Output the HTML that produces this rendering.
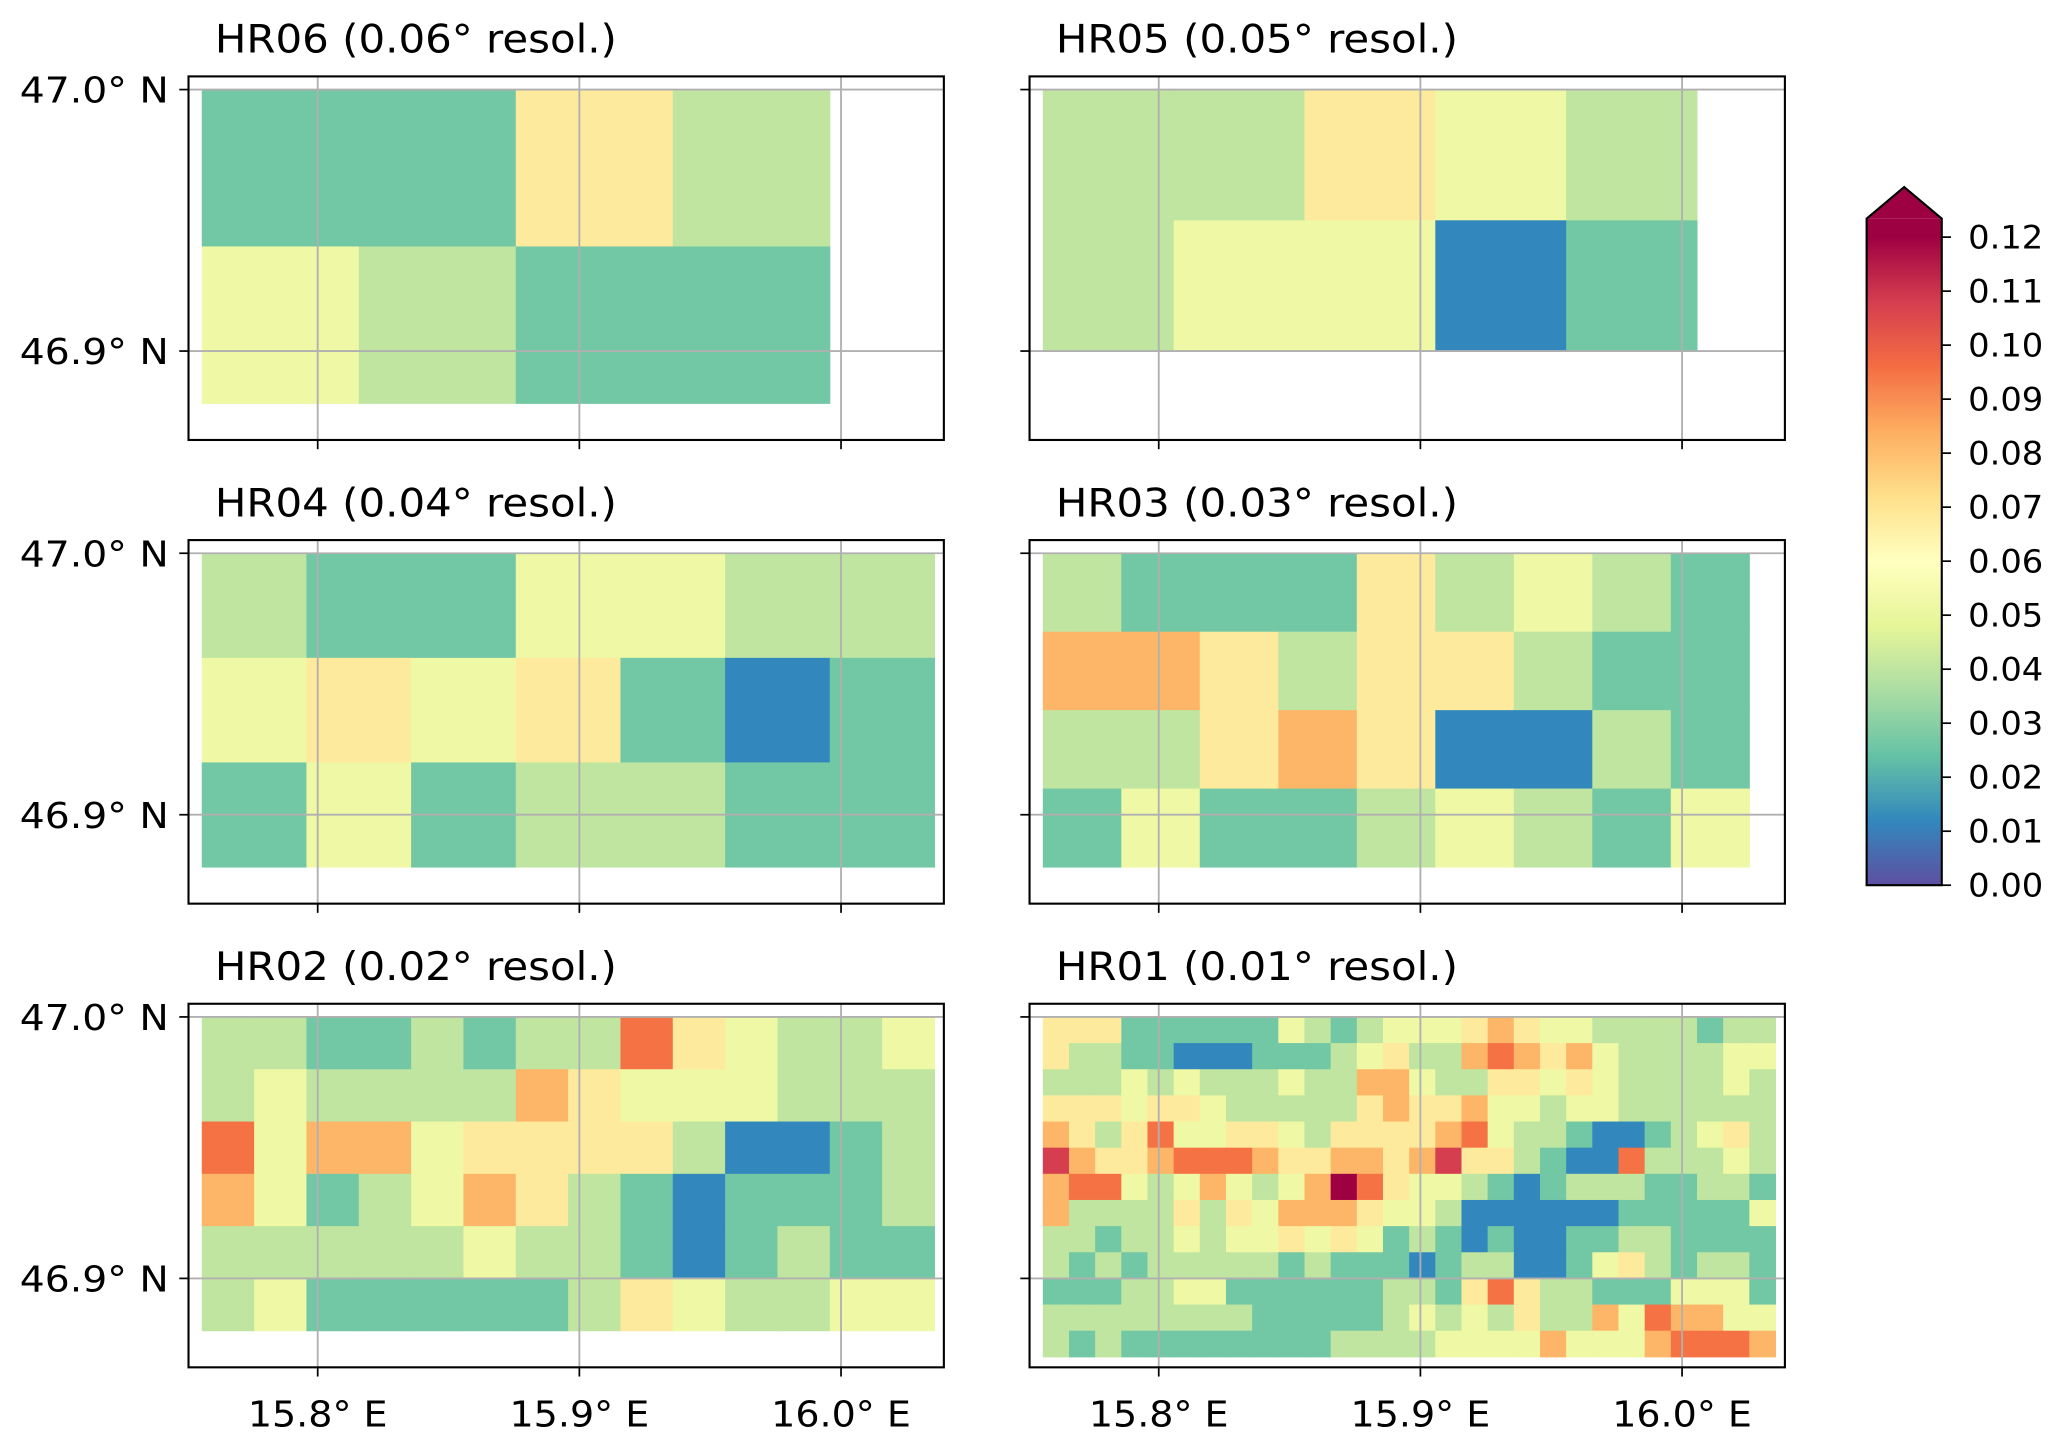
<!DOCTYPE html>
<html><head><meta charset="utf-8">
<style>
html,body{margin:0;padding:0;background:#fff;}
svg{display:block;}
text{font-family:"DejaVu Sans","Liberation Sans",sans-serif;fill:#000;}
</style></head>
<body>
<svg id="fig" width="2067" height="1449" viewBox="0 0 1568 1100" preserveAspectRatio="none" xmlns="http://www.w3.org/2000/svg">
<defs>
<linearGradient id="spec" x1="0" y1="1" x2="0" y2="0">
<stop offset="0" stop-color="#5e4fa2"/><stop offset="0.1" stop-color="#3288bd"/>
<stop offset="0.2" stop-color="#66c2a5"/><stop offset="0.3" stop-color="#abdda4"/>
<stop offset="0.4" stop-color="#e6f598"/><stop offset="0.5" stop-color="#ffffbf"/>
<stop offset="0.6" stop-color="#fee08b"/><stop offset="0.7" stop-color="#fdae61"/>
<stop offset="0.8" stop-color="#f46d43"/><stop offset="0.9" stop-color="#d53e4f"/>
<stop offset="1" stop-color="#9e0142"/>
</linearGradient>
</defs>
</svg>
<script>
// ---- data ----
const xTickValues = [15.8, 15.9, 16.0];
const xTickLabels = ["15.8° E", "15.9° E", "16.0° E"];
const yTickValues = [47.0, 46.9];
const yTickLabels = ["47.0° N", "46.9° N"];
const cbarTicks = [0,0.01,0.02,0.03,0.04,0.05,0.06,0.07,0.08,0.09,0.10,0.11,0.12];
const cbarLabels = ["0.00","0.01","0.02","0.03","0.04","0.05","0.06","0.07","0.08","0.09","0.10","0.11","0.12"];
const panelTitles = ["HR06 (0.06° resol.)","HR05 (0.05° resol.)","HR04 (0.04° resol.)","HR03 (0.03° resol.)","HR02 (0.02° resol.)","HR01 (0.01° resol.)"];
const panelRes = [0.06, 0.05, 0.04, 0.03, 0.02, 0.01];
const gridLon0 = 15.7557;
const gridLat0 = 47.0;

const hr06 = [
 [0.026,0.026,0.068,0.04],
 [0.052,0.04,0.026,0.026]];
const hr05 = [
 [0.04,0.04,0.068,0.052,0.04],
 [0.04,0.052,0.052,0.012,0.026]];
const hr04 = [
 [0.04,0.026,0.026,0.052,0.052,0.04,0.04],
 [0.052,0.068,0.052,0.068,0.026,0.012,0.026],
 [0.026,0.052,0.026,0.04,0.04,0.026,0.026]];
const hr03 = [
 [0.04,0.026,0.026,0.026,0.068,0.04,0.052,0.04,0.026],
 [0.082,0.082,0.068,0.04,0.068,0.068,0.04,0.026,0.026],
 [0.04,0.04,0.068,0.082,0.068,0.012,0.012,0.04,0.026],
 [0.026,0.052,0.026,0.026,0.04,0.052,0.04,0.026,0.052]];
const hr02 = [
 [0.04,0.04,0.026,0.026,0.04,0.026,0.04,0.04,0.095,0.068,0.052,0.04,0.04,0.052],
 [0.04,0.052,0.04,0.04,0.04,0.04,0.082,0.068,0.052,0.052,0.052,0.04,0.04,0.04],
 [0.095,0.052,0.082,0.082,0.052,0.068,0.068,0.068,0.068,0.04,0.012,0.012,0.026,0.04],
 [0.082,0.052,0.026,0.04,0.052,0.082,0.068,0.04,0.026,0.012,0.026,0.026,0.026,0.04],
 [0.04,0.04,0.04,0.04,0.04,0.052,0.04,0.04,0.026,0.012,0.026,0.04,0.026,0.026],
 [0.04,0.052,0.026,0.026,0.026,0.026,0.026,0.04,0.068,0.052,0.04,0.04,0.052,0.052]];
const hr01 = [
 [0.068,0.068,0.068,0.026,0.026,0.026,0.026,0.026,0.026,0.052,0.04,0.026,0.04,0.052,0.052,0.052,0.068,0.082,0.068,0.052,0.052,0.04,0.04,0.04,0.04,0.026,0.04,0.04],
 [0.068,0.04,0.04,0.026,0.026,0.012,0.012,0.012,0.026,0.026,0.026,0.04,0.052,0.068,0.04,0.04,0.082,0.095,0.082,0.068,0.082,0.052,0.04,0.04,0.04,0.04,0.052,0.052],
 [0.04,0.04,0.04,0.052,0.04,0.052,0.04,0.04,0.04,0.052,0.04,0.04,0.082,0.082,0.052,0.04,0.04,0.068,0.068,0.052,0.068,0.052,0.04,0.04,0.04,0.04,0.052,0.04],
 [0.068,0.068,0.068,0.052,0.068,0.068,0.052,0.04,0.04,0.04,0.04,0.04,0.068,0.082,0.068,0.068,0.082,0.052,0.052,0.04,0.052,0.052,0.04,0.04,0.04,0.04,0.04,0.04],
 [0.082,0.068,0.04,0.068,0.095,0.052,0.052,0.068,0.068,0.052,0.04,0.068,0.068,0.068,0.068,0.082,0.095,0.052,0.04,0.04,0.026,0.012,0.012,0.026,0.04,0.052,0.068,0.04],
 [0.108,0.082,0.068,0.068,0.082,0.095,0.095,0.095,0.082,0.068,0.068,0.082,0.082,0.068,0.082,0.108,0.068,0.068,0.04,0.026,0.012,0.012,0.095,0.04,0.04,0.04,0.052,0.04],
 [0.082,0.095,0.095,0.052,0.04,0.052,0.082,0.052,0.04,0.052,0.082,0.13,0.095,0.068,0.052,0.052,0.04,0.026,0.012,0.026,0.04,0.04,0.04,0.026,0.026,0.04,0.04,0.026],
 [0.082,0.04,0.04,0.04,0.04,0.068,0.04,0.068,0.052,0.082,0.082,0.082,0.068,0.052,0.052,0.04,0.012,0.012,0.012,0.012,0.012,0.012,0.026,0.026,0.026,0.026,0.026,0.052],
 [0.04,0.04,0.026,0.04,0.04,0.052,0.04,0.052,0.052,0.068,0.052,0.068,0.052,0.026,0.04,0.026,0.012,0.026,0.012,0.012,0.026,0.026,0.04,0.04,0.026,0.026,0.026,0.026],
 [0.04,0.026,0.04,0.026,0.04,0.04,0.04,0.04,0.04,0.026,0.04,0.026,0.026,0.026,0.012,0.026,0.04,0.04,0.012,0.012,0.026,0.052,0.068,0.04,0.026,0.04,0.04,0.026],
 [0.026,0.026,0.026,0.04,0.04,0.052,0.052,0.026,0.026,0.026,0.026,0.026,0.026,0.04,0.04,0.026,0.068,0.095,0.068,0.04,0.04,0.026,0.026,0.026,0.052,0.052,0.052,0.026],
 [0.04,0.04,0.04,0.04,0.04,0.04,0.04,0.04,0.026,0.026,0.026,0.026,0.026,0.04,0.052,0.04,0.052,0.04,0.068,0.04,0.04,0.082,0.052,0.095,0.082,0.082,0.052,0.052],
 [0.04,0.026,0.04,0.026,0.026,0.026,0.026,0.026,0.026,0.026,0.026,0.04,0.04,0.04,0.04,0.052,0.052,0.052,0.052,0.082,0.052,0.052,0.052,0.082,0.095,0.095,0.095,0.082]];
const panelData = [hr06, hr05, hr04, hr03, hr02, hr01];

// ---- layout ----
const NS = "http://www.w3.org/2000/svg";
const svg = document.getElementById("fig");
const axW = 573, axH = 276;
const axLefts = [143, 781];
const axTops = [58, 410, 762];
const pxPerDeg = 1985;
const lonMin = 15.8 - 98/pxPerDeg;
const latMax = 47.0 + 10/pxPerDeg;
const vmin = 0, vmax = 0.12;
const stops = ["#5e4fa2","#3288bd","#66c2a5","#abdda4","#e6f598","#ffffbf","#fee08b","#fdae61","#f46d43","#d53e4f","#9e0142"];

function hex2rgb(h){return [1,3,5].map(i=>parseInt(h.substr(i,2),16));}
function cmap(v){
  let t=(v-vmin)/(vmax-vmin);
  if(t>=1) return "#9e0142";
  if(t<0) t=0;
  const p=t*10, i=Math.floor(p), f=p-i;
  const a=hex2rgb(stops[i]), b=hex2rgb(stops[Math.min(i+1,10)]);
  return "rgb("+a.map((c,k)=>Math.round(c+(b[k]-c)*f)).join(",")+")";
}
function mk(tag, attrs, parent){
  const e=document.createElementNS(NS,tag);
  for(const k in attrs) e.setAttribute(k,attrs[k]);
  (parent||svg).appendChild(e);
  return e;
}

for(let p=0;p<6;p++){
  const col=p%2,row=Math.floor(p/2);
  const ax0=axLefts[col], ay0=axTops[row];
  const xs=lon=>ax0+(lon-lonMin)*pxPerDeg;
  const ys=lat=>ay0+(latMax-lat)*pxPerDeg;
  const g=mk("g",{});
  
  
  const title=mk("text",{x:ax0+20,y:ay0-18,"font-size":"30",textLength:"305",lengthAdjust:"spacingAndGlyphs"},g);
  title.textContent=panelTitles[p];
  
  
  const data=panelData[p], res=panelRes[p];
  const cells=mk("g",{},g);
  
  
  data.forEach((r,i)=>r.forEach((v,j)=>{
    const x1=xs(gridLon0+j*res), x2=xs(gridLon0+(j+1)*res);
    const y1=ys(gridLat0-i*res), y2=ys(gridLat0-(i+1)*res);
    const c=mk("rect",{x:x1,y:y1,width:x2-x1+0.4,height:y2-y1+0.4,fill:cmap(v)},cells);
    
    
  }));
  xTickValues.forEach(lon=>{
    const l=mk("line",{x1:xs(lon),x2:xs(lon),y1:ay0,y2:ay0+axH,stroke:"#b0b0b0","stroke-width":1.4},g);
    
    
    const t=mk("line",{x1:xs(lon),x2:xs(lon),y1:ay0+axH,y2:ay0+axH+7,stroke:"#000","stroke-width":1.3},g);
    
    
  });
  yTickValues.forEach((lat,k)=>{
    const l=mk("line",{x1:ax0,x2:ax0+axW,y1:ys(lat),y2:ys(lat),stroke:"#b0b0b0","stroke-width":1.4},g);
    
    
    const t=mk("line",{x1:ax0-7,x2:ax0,y1:ys(lat),y2:ys(lat),stroke:"#000","stroke-width":1.3},g);
    
    
    if(col===0){
      const tl=mk("text",{x:ax0-128,y:ys(lat)+10,"font-size":"27",textLength:"113",lengthAdjust:"spacingAndGlyphs"},g);
      tl.textContent=yTickLabels[k];
      
      
    }
  });
  if(row===2){
    xTickValues.forEach((lon,k)=>{
      const tl=mk("text",{x:xs(lon)-53,y:ay0+axH+45,"font-size":"27",textLength:"106",lengthAdjust:"spacingAndGlyphs"},g);
      tl.textContent=xTickLabels[k];
      
      
    });
  }
  const fr=mk("rect",{x:ax0,y:ay0,width:axW,height:axH,fill:"none",stroke:"#000","stroke-width":1.6},g);
  
  
}

// colorbar
const cbX=1416, cbW=57, cbBottom=672, cbTop=166, cbTip=142, cb012=180;
const cy=v=>cbBottom-(v-vmin)/(vmax-vmin)*(cbBottom-cb012);
const cg=mk("g",{});


mk("rect",{x:cbX,y:cbTop,width:cbW,height:cb012-cbTop+1,fill:"#9e0142"},cg);
mk("rect",{x:cbX,y:cb012,width:cbW,height:cbBottom-cb012,fill:"url(#spec)"},cg);
mk("polygon",{points:`${cbX},${cbTop} ${cbX+cbW/2},${cbTip} ${cbX+cbW},${cbTop}`,fill:"#9e0142"},cg);
const out=mk("polygon",{points:`${cbX},${cbBottom} ${cbX},${cbTop} ${cbX+cbW/2},${cbTip} ${cbX+cbW},${cbTop} ${cbX+cbW},${cbBottom}`,fill:"none",stroke:"#000","stroke-width":1.6},cg);


cbarTicks.forEach((v,k)=>{
  const t=mk("line",{x1:cbX+cbW,x2:cbX+cbW+7,y1:cy(v),y2:cy(v),stroke:"#000","stroke-width":1.3},cg);
  
  
  const tl=mk("text",{x:cbX+cbW+20,y:cy(v)+8.5,"font-size":"24",textLength:"57",lengthAdjust:"spacingAndGlyphs"},cg);
  tl.textContent=cbarLabels[k];
  
  
});
</script>
</body></html>
